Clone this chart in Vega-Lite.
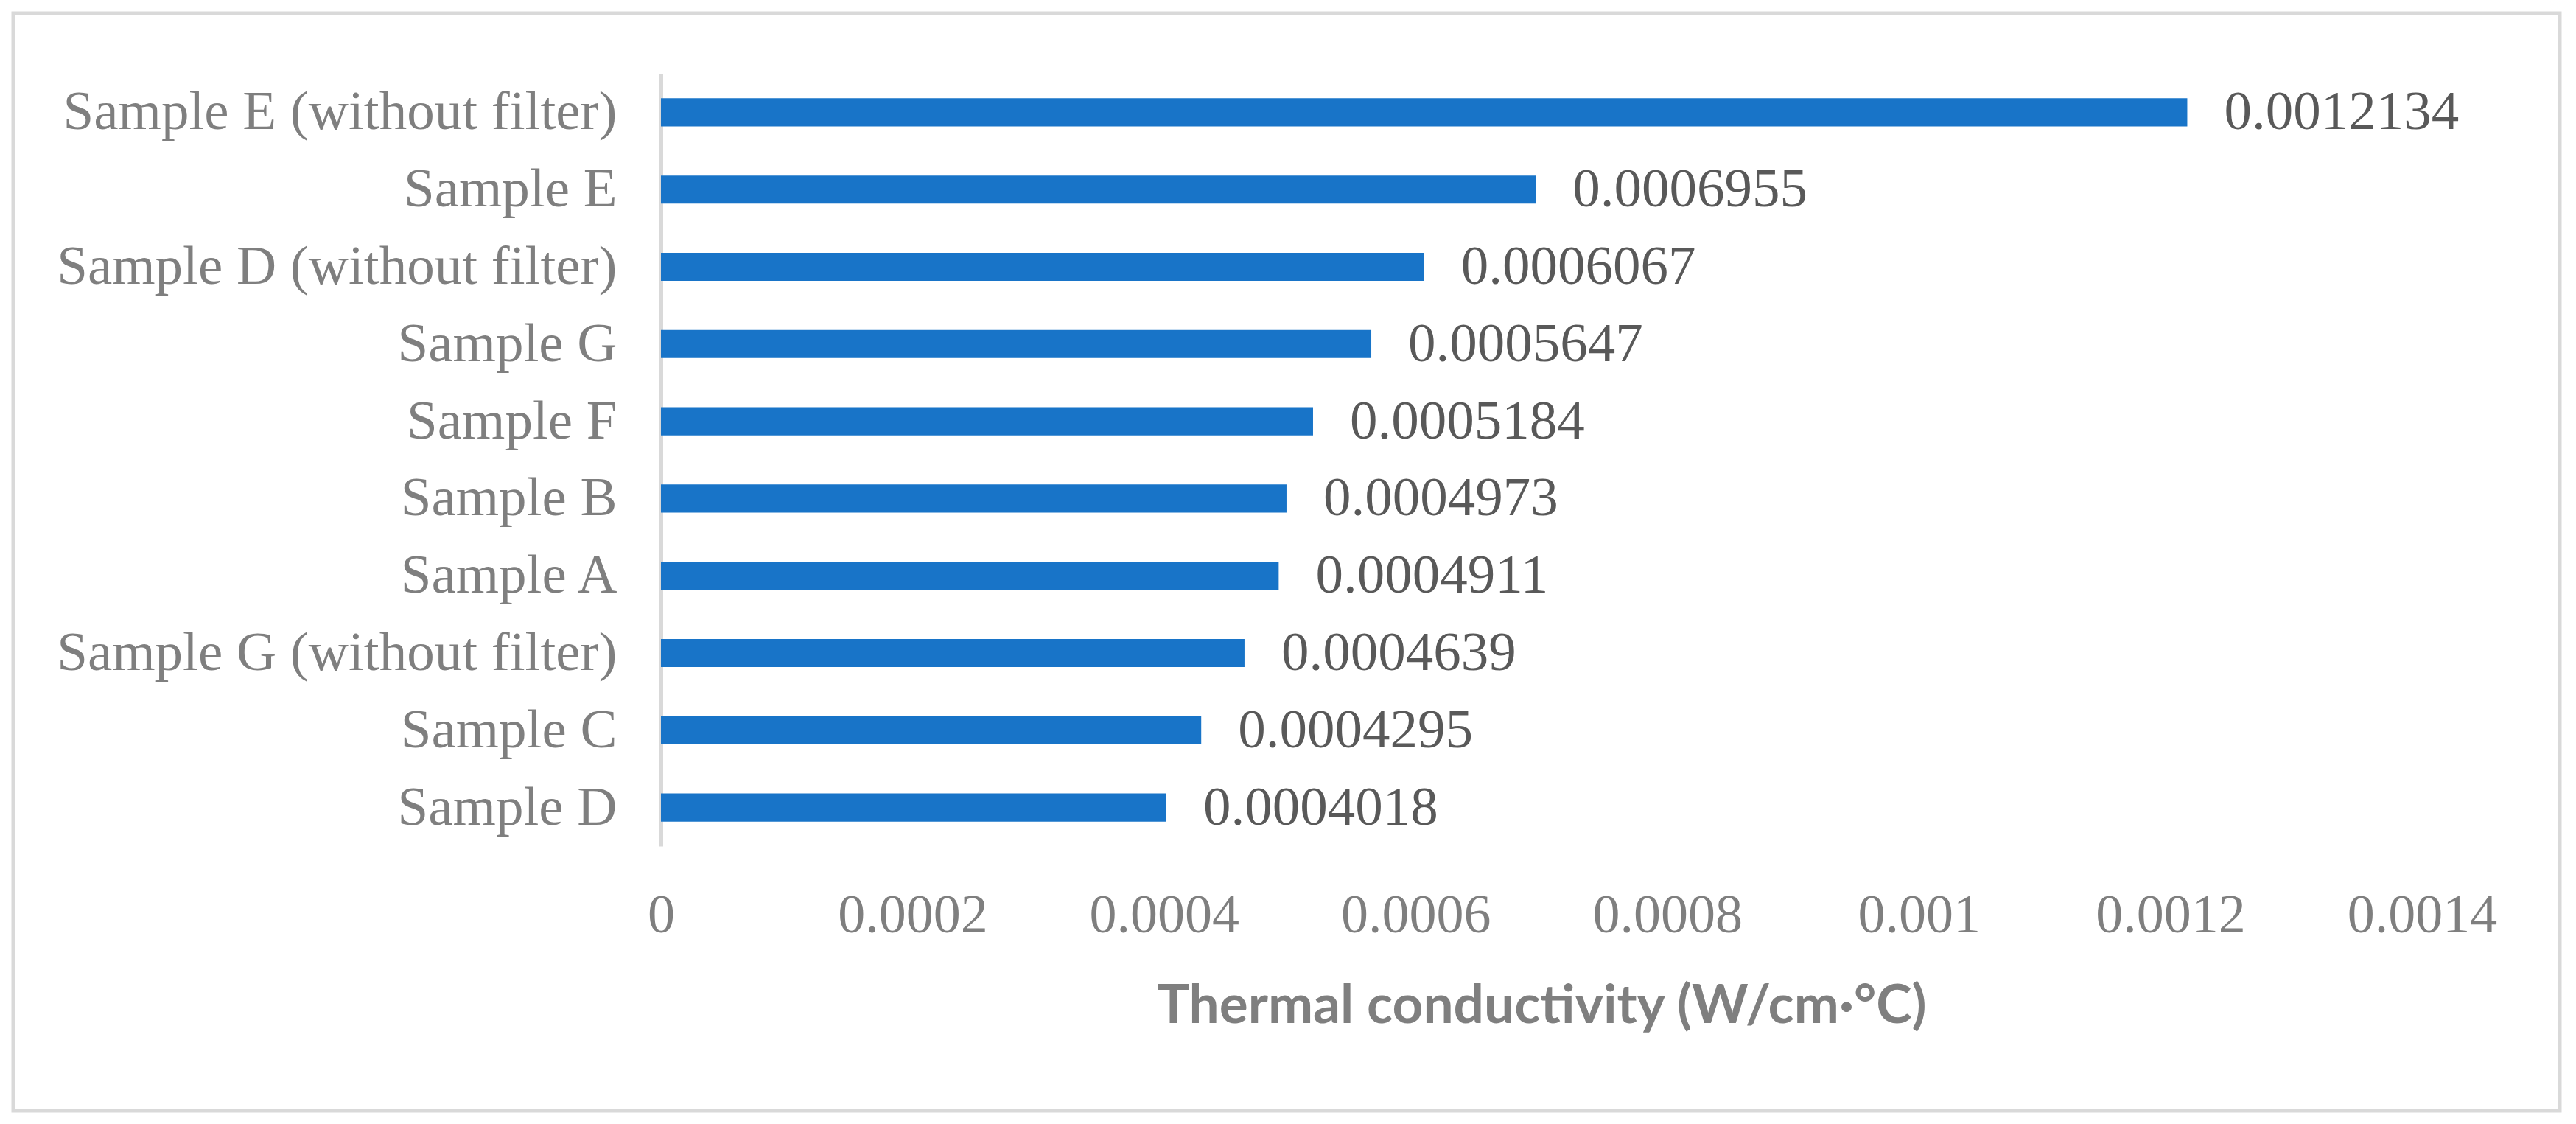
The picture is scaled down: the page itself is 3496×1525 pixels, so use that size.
{
  "$schema": "https://vega.github.io/schema/vega-lite/v6.json",
  "width": 3456,
  "height": 1489,
  "autosize": {"type": "none"},
  "padding": {"left": 18, "top": 18, "right": 22, "bottom": 18},
  "background": "white",
  "config": {
    "view": {"stroke": "#d9d9d9", "strokeWidth": 5, "fill": "white"}
  },
  "data": {
    "values": [
      {"sample": "Sample E (without filter)", "value": 0.0012134},
      {"sample": "Sample E", "value": 0.0006955},
      {"sample": "Sample D (without filter)", "value": 0.0006067},
      {"sample": "Sample G\u2002", "value": 0.0005647},
      {"sample": "Sample F", "value": 0.0005184},
      {"sample": "Sample B", "value": 0.0004973},
      {"sample": "Sample A", "value": 0.0004911},
      {"sample": "Sample G (without filter)", "value": 0.0004639},
      {"sample": "Sample C", "value": 0.0004295},
      {"sample": "Sample D\u2002", "value": 0.0004018}
    ]
  },
  "encoding": {
    "y": {
      "field": "sample",
      "type": "nominal",
      "sort": "-x",
      "scale": {"range": [82, 1130], "paddingInner": 0.636, "paddingOuter": 0.318},
      "axis": {
        "title": null,
        "offset": -879,
        "domain": true,
        "domainColor": "#d9d9d9",
        "domainWidth": 5,
        "ticks": false,
        "labelFont": "Liberation Serif",
        "labelFontSize": 75,
        "labelColor": "#7f7f7f",
        "labelPadding": 60,
        "labelLimit": 1000
      }
    },
    "x": {
      "field": "value",
      "type": "quantitative",
      "scale": {"domain": [0, 0.0014], "nice": false, "range": [879, 3269]},
      "axis": {
        "title": "Thermal conductivity (W/cm·°C)",
        "offset": -359,
        "values": [0, 0.0002, 0.0004, 0.0006, 0.0008, 0.001, 0.0012, 0.0014],
        "format": "~g",
        "grid": false,
        "domain": false,
        "ticks": false,
        "labelFont": "Liberation Serif",
        "labelFontSize": 74,
        "labelColor": "#7f7f7f",
        "labelPadding": 58,
        "labelLimit": 1000,
        "labelFlush": false,
        "labelOverlap": false,
        "titleFont": "Lato",
        "titleFontWeight": "bold",
        "titleFontSize": 73,
        "titleColor": "#7f7f7f",
        "titlePadding": 50
      }
    }
  },
  "layer": [
    {"mark": {"type": "bar", "color": "#1874C8"}},
    {
      "mark": {"type": "text", "align": "left", "baseline": "middle", "dx": 50, "font": "Liberation Serif", "fontSize": 75, "color": "#595959"},
      "encoding": {"text": {"field": "value", "type": "quantitative", "format": ".7f"}}
    }
  ]
}
